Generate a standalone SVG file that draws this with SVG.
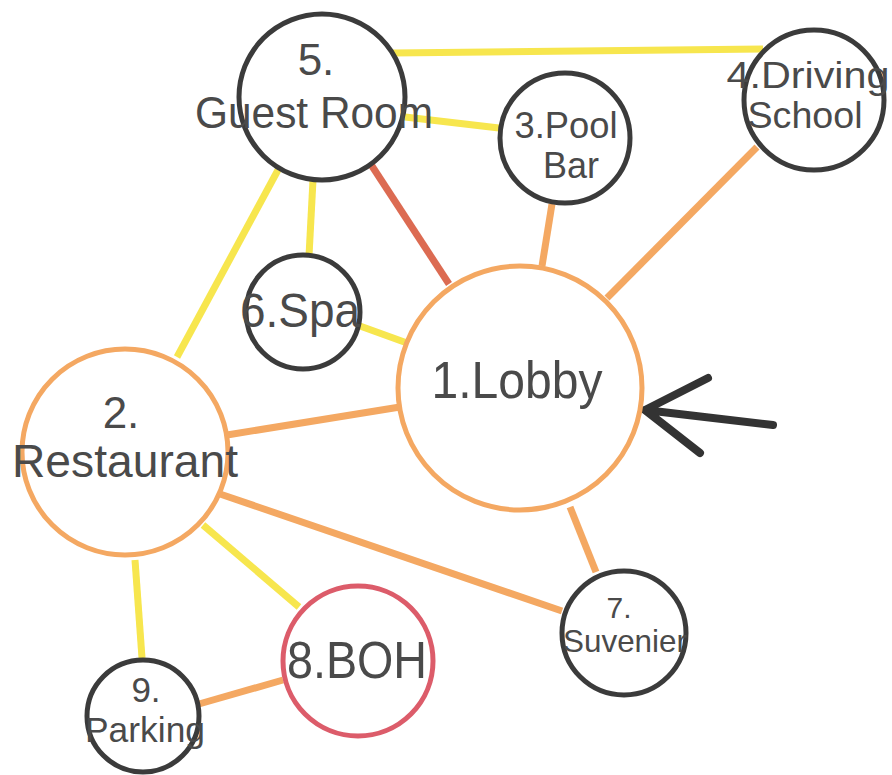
<svg xmlns="http://www.w3.org/2000/svg" width="892" height="775" viewBox="0 0 892 775">
<style>
.e{fill:none;stroke-width:7;stroke-linecap:butt}
.y{stroke:#f7e64e}
.o{stroke:#f4a862}
.r{stroke:#dc6b52}
.n{fill:#fff;stroke-width:5}
.dk{stroke:#3b3b3b}
.or{stroke:#f4a862}
.rd{stroke:#dc5c6a}
text{font-family:"Liberation Sans","Noto Sans",Arial,sans-serif;fill:#4a4a4a;text-anchor:middle}
</style>
<rect width="892" height="775" fill="#fff"/>
<g id="connectors">
<line class="e y" x1="393" y1="53" x2="763" y2="49"/>
<line class="e y" x1="405" y1="117" x2="499" y2="128"/>
<line class="e y" x1="313" y1="180" x2="309" y2="256"/>
<line class="e y" x1="278" y1="170" x2="177" y2="357"/>
<line class="e r" x1="370" y1="163" x2="449" y2="284"/>
<line class="e y" x1="360" y1="326" x2="407" y2="343"/>
<line class="e o" x1="552" y1="204" x2="542" y2="266"/>
<line class="e o" x1="757" y1="147" x2="607" y2="298"/>
<line class="e o" x1="227" y1="435" x2="400" y2="407"/>
<line class="e o" x1="220" y1="494" x2="562" y2="611"/>
<line class="e o" x1="570" y1="507" x2="596" y2="572"/>
<line class="e y" x1="203" y1="525" x2="299" y2="607"/>
<line class="e y" x1="135" y1="560" x2="142" y2="658"/>
<line class="e o" x1="199" y1="704" x2="283" y2="680"/>
<path d="M773 425 L645 410 M708 378 L645 410 L700 453" fill="none" stroke="#333" stroke-width="8" stroke-linecap="round" stroke-linejoin="round"/>
</g>
<g id="n1"><circle class="n or" cx="520" cy="388" r="122"/><text x="517" y="398" font-size="52" textLength="171" lengthAdjust="spacingAndGlyphs">1.Lobby</text></g>
<g id="n2"><circle class="n or" cx="125" cy="452" r="103"/><text x="121" y="428" font-size="44">2.</text><text x="125" y="477" font-size="46" textLength="226" lengthAdjust="spacingAndGlyphs">Restaurant</text></g>
<g id="n3"><circle class="n dk" cx="565" cy="138" r="65"/><text x="566" y="138" font-size="36" textLength="103" lengthAdjust="spacingAndGlyphs">3.Pool</text><text x="571" y="178" font-size="36">Bar</text></g>
<g id="n4"><circle class="n dk" cx="814" cy="100" r="70"/><text x="808" y="88" font-size="36" textLength="163" lengthAdjust="spacingAndGlyphs">4.Driving</text><text x="805" y="128" font-size="37" textLength="115" lengthAdjust="spacingAndGlyphs">School</text></g>
<g id="n5"><circle class="n dk" cx="322" cy="97" r="83"/><text x="316" y="75" font-size="44">5.</text><text x="314" y="128" font-size="44" textLength="238" lengthAdjust="spacingAndGlyphs">Guest Room</text></g>
<g id="n6"><circle class="n dk" cx="303" cy="312" r="57"/><text x="300" y="327" font-size="48" textLength="120" lengthAdjust="spacingAndGlyphs">6.Spa</text></g>
<g id="n7"><circle class="n dk" cx="624" cy="633" r="62"/><text x="619" y="618" font-size="30">7.</text><text x="625" y="652" font-size="32" textLength="124" lengthAdjust="spacingAndGlyphs">Suvenier</text></g>
<g id="n8"><circle class="n rd" cx="358" cy="661" r="75"/><text x="357" y="678" font-size="52" textLength="140" lengthAdjust="spacingAndGlyphs">8.BOH</text></g>
<g id="n9"><circle class="n dk" cx="143" cy="716" r="56"/><text x="146" y="702" font-size="35">9.</text><text x="145" y="742" font-size="35" textLength="120" lengthAdjust="spacingAndGlyphs">Parking</text></g>
</svg>
